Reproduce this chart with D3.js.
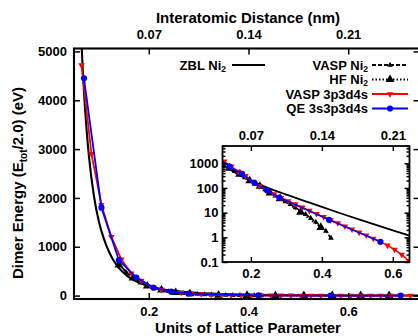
<!DOCTYPE html>
<html>
<head>
<meta charset="UTF-8">
<style>
body{margin:0;background:#fff;}
svg{display:block;font-family:"Liberation Sans",Arial,sans-serif;font-weight:bold;}
.axis text{font-size:13px;fill:#000;}
.axis line{stroke:#000;stroke-width:1.5px;}
.title{font-size:15px;}
.leg{font-size:13px;}
</style>
</head>
<body>
<svg width="418" height="336"></svg>
<script src="https://d3js.org/d3.v7.min.js"></script>
<script>
// x values are in units of the lattice parameter, energies in eV
var zblU = [0.05, 0.055, 0.06, 0.065, 0.07, 0.075, 0.08, 0.09, 0.1, 0.11, 0.12, 0.13, 0.14, 0.15, 0.16, 0.18, 0.2, 0.22, 0.25, 0.28, 0.3, 0.35, 0.4, 0.45, 0.5, 0.55, 0.6, 0.65, 0.7, 0.75];
var zblE = [11200, 8510, 6610, 5190, 4170, 3430, 2850, 2040, 1510, 1160, 902, 708, 569, 462, 380, 269, 195, 146, 97.7, 67.6, 53.7, 30.2, 17.0, 9.66, 5.56, 3.24, 1.91, 1.135, 0.684, 0.417];

var vaspNiU = [0.14, 0.1543, 0.1686, 0.1829, 0.1971, 0.2114, 0.2257, 0.24, 0.2543, 0.2686, 0.2829, 0.2971, 0.3114, 0.3257, 0.34, 0.3543, 0.3686, 0.3829, 0.3971, 0.4114, 0.4257];
var vaspNiE = [660, 479, 355, 263, 195, 148, 112, 85, 63, 48, 37, 28, 21.4, 15.8, 11.7, 8.5, 6.0, 4.2, 2.8, 1.78, 0.93];

var hfU = [0.14, 0.1685, 0.197, 0.2255, 0.254, 0.2825, 0.34, 0.397, 0.454, 0.511, 0.568, 0.625, 0.682];
var hfE = [630, 363, 195, 117, 63, 37, 10.5, 2.5, -0.6, -1.2, -1.3, -1.1, -0.9];

var vasp3pU = [0.065, 0.085, 0.105, 0.125, 0.145, 0.165, 0.185, 0.205, 0.225, 0.245, 0.265, 0.285, 0.305, 0.325, 0.345, 0.365, 0.385, 0.405, 0.425, 0.445, 0.465, 0.485, 0.505, 0.525, 0.545, 0.565, 0.585, 0.605, 0.625, 0.645, 0.665, 0.685, 0.705, 0.725];
var vasp3pE = [4720, 2900, 1860, 1200, 740, 457, 309, 182, 120, 83, 56, 40, 29.5, 21.9, 16.2, 12.0, 8.9, 6.8, 5.0, 3.8, 2.8, 2.1, 1.58, 1.2, 0.89, 0.66, 0.47, 0.32, 0.20, 0.11, 0.063, 0.035, 0.02, 0.011];

var qeU = [0.07, 0.105, 0.14, 0.175, 0.21, 0.245, 0.28, 0.42, 0.565, 0.705];
var qeE = [4450, 1800, 726, 370, 161, 81, 41, 5.1, 0.66, -0.3];

var yTicks = [0, 1000, 2000, 3000, 4000, 5000];
var xTicks = [0.2, 0.4, 0.6];
var nmTicks = [0.07, 0.14, 0.21];
var logTicks = [0.1, 1, 10, 100, 1000];
var nmPerUnit = 0.35;

function zip(u, e) { return u.map(function(v, i) { return {u: v, e: e[i]}; }); }

var series = [
  {id: "zbl", values: zip(zblU, zblE), color: "#000", dash: null, sym: null, curve: d3.curveMonotoneX},
  {id: "vaspNi", values: zip(vaspNiU, vaspNiE), color: "#000", dash: "4,2", sym: d3.symbolTriangle, size: 14, rot: 0, curve: d3.curveLinear},
  {id: "hf", values: zip(hfU, hfE), color: "#000", dash: "1.5,2", sym: d3.symbolTriangle, size: 34, rot: 0, curve: d3.curveLinear},
  {id: "vasp3p", values: zip(vasp3pU, vasp3pE), color: "#ff0000", dash: null, sym: d3.symbolTriangle, size: 18, rot: 180, curve: d3.curveLinear},
  {id: "qe", values: zip(qeU, qeE), color: "#0000ff", dash: null, sym: d3.symbolCircle, size: 30, rot: 0, curve: d3.curveLinear}
];

var svg = d3.select("svg");

function panel(g, box, x, y, logY, lw) {
  var id = "clip" + Math.round(box.left);
  svg.append("clipPath").attr("id", id).append("rect")
      .attr("x", box.left).attr("y", box.top)
      .attr("width", box.right - box.left).attr("height", box.bottom - box.top);

  g.append("rect")
      .attr("x", box.left).attr("y", box.top)
      .attr("width", box.right - box.left).attr("height", box.bottom - box.top)
      .attr("fill", "#fff");

  var plot = g.append("g").attr("clip-path", "url(#" + id + ")");

  series.forEach(function(s) {
    var pts = s.values.filter(function(d) { return !logY || d.e > 0; });
    var line = d3.line().curve(s.curve)
        .x(function(d) { return x(d.u); })
        .y(function(d) { return y(d.e); });
    plot.append("path")
        .attr("d", line(pts))
        .attr("fill", "none")
        .attr("stroke", s.color)
        .attr("stroke-width", s.id == "zbl" ? lw + 0.3 : lw)
        .attr("stroke-dasharray", s.dash);
    if (s.sym) {
      plot.selectAll(null).data(pts).enter().append("path")
          .attr("d", d3.symbol().type(s.sym).size(s.size))
          .attr("transform", function(d) { return "translate(" + x(d.u) + "," + y(d.e) + ") rotate(" + s.rot + ")"; })
          .attr("fill", s.color);
    }
  });

  g.append("rect")
      .attr("x", box.left).attr("y", box.top)
      .attr("width", box.right - box.left).attr("height", box.bottom - box.top)
      .attr("fill", "none").attr("stroke", "#000").attr("stroke-width", lw + 0.3);
}

// main plot
var mb = {left: 74, right: 419.5, top: 48.5, bottom: 299};
var x = d3.scaleLinear().domain([0.05, 0.743]).range([mb.left, mb.right]);
var x2 = d3.scaleLinear().domain([0.05 * nmPerUnit, 0.743 * nmPerUnit]).range([mb.left, mb.right]);
var y = d3.scaleLinear().domain([-70, 5060]).range([mb.bottom, mb.top]);

var main = svg.append("g");
panel(main, mb, x, y, false, 1.8);

main.append("g").attr("class", "axis")
    .attr("transform", "translate(0," + mb.bottom + ")")
    .call(d3.axisBottom(x).tickValues(xTicks).tickSizeInner(-6).tickSizeOuter(0).tickPadding(8).tickFormat(d3.format(".1f")));
main.append("g").attr("class", "axis")
    .attr("transform", "translate(0," + mb.top + ")")
    .call(d3.axisTop(x2).tickValues(nmTicks).tickSizeInner(-6).tickSizeOuter(0).tickPadding(10).tickFormat(d3.format(".2f")));
main.append("g").attr("class", "axis")
    .attr("transform", "translate(" + mb.left + ",0)")
    .call(d3.axisLeft(y).tickValues(yTicks).tickSizeInner(-6).tickSizeOuter(0).tickPadding(7).tickFormat(d3.format("d")));
main.append("g").attr("class", "axis")
    .attr("transform", "translate(" + mb.right + ",0)")
    .call(d3.axisRight(y).tickValues(yTicks).tickSizeInner(-6).tickSizeOuter(0).tickFormat(""));

// inset
var ib = {left: 222.5, right: 409.5, top: 146, bottom: 262};
var xi = d3.scaleLinear().domain([0.12, 0.647]).range([ib.left, ib.right]);
var xi2 = d3.scaleLinear().domain([0.12 * nmPerUnit, 0.647 * nmPerUnit]).range([ib.left, ib.right]);
var yi = d3.scaleLog().domain([0.1, 5000]).range([ib.bottom, ib.top]);

var inset = svg.append("g");
panel(inset, ib, xi, yi, true, 1.5);

var minor = [];
[0.1, 1, 10, 100, 1000].forEach(function(d) {
  for (var k = 2; k <= 9; k++) if (d * k <= 5000) minor.push(d * k);
});

inset.append("g").attr("class", "axis")
    .attr("transform", "translate(0," + ib.bottom + ")")
    .call(d3.axisBottom(xi).tickValues(xTicks).tickSizeInner(-5).tickSizeOuter(0).tickPadding(7).tickFormat(d3.format(".1f")));
inset.append("g").attr("class", "axis")
    .attr("transform", "translate(0," + ib.top + ")")
    .call(d3.axisTop(xi2).tickValues(nmTicks).tickSizeInner(-5).tickSizeOuter(0).tickPadding(6).tickFormat(d3.format(".2f")));
inset.append("g").attr("class", "axis")
    .attr("transform", "translate(" + ib.left + ",0)")
    .call(d3.axisLeft(yi).tickValues(logTicks).tickSizeInner(-5).tickSizeOuter(0).tickPadding(4).tickFormat(function(d) { return d < 1 ? "0.1" : d3.format("d")(d); }));
inset.append("g").attr("class", "axis")
    .attr("transform", "translate(" + ib.left + ",0)")
    .call(d3.axisLeft(yi).tickValues(minor).tickSizeInner(-3).tickSizeOuter(0).tickFormat(""));
inset.append("g").attr("class", "axis")
    .attr("transform", "translate(" + ib.right + ",0)")
    .call(d3.axisRight(yi).tickValues(logTicks).tickSizeInner(-5).tickSizeOuter(0).tickFormat(""));
inset.append("g").attr("class", "axis")
    .attr("transform", "translate(" + ib.right + ",0)")
    .call(d3.axisRight(yi).tickValues(minor).tickSizeInner(-3).tickSizeOuter(0).tickFormat(""));

svg.selectAll(".axis .domain").remove();

// titles
svg.append("text").attr("class", "title").attr("x", 248).attr("y", 23).attr("text-anchor", "middle")
    .text("Interatomic Distance (nm)");
svg.append("text").attr("class", "title").attr("x", 248).attr("y", 333).attr("text-anchor", "middle")
    .text("Units of Lattice Parameter");
var yl = svg.append("text").attr("class", "title").attr("text-anchor", "middle")
    .attr("transform", "translate(23,183) rotate(-90)");
yl.append("tspan").text("Dimer Energy (E");
yl.append("tspan").attr("font-size", "10px").attr("dy", 4).text("tot");
yl.append("tspan").attr("dy", -4).text("/2.0) (eV)");

// legend
var legend = [
  {label: "ZBL Ni", sub: "2", s: 0, tx: 226, lx: 232, lw: 33, y: 65},
  {label: "VASP Ni", sub: "2", s: 1, tx: 368, lx: 372, lw: 36, y: 65},
  {label: "HF Ni", sub: "2", s: 2, tx: 368, lx: 372, lw: 36, y: 79.5},
  {label: "VASP 3p3d4s", sub: null, s: 3, tx: 368, lx: 372, lw: 36, y: 94},
  {label: "QE 3s3p3d4s", sub: null, s: 4, tx: 368, lx: 372, lw: 36, y: 108.5}
];
legend.forEach(function(d) {
  var s = series[d.s];
  var t = svg.append("text").attr("class", "leg").attr("x", d.tx).attr("y", d.y + 4.5).attr("text-anchor", "end");
  t.append("tspan").text(d.label);
  if (d.sub) t.append("tspan").attr("font-size", "8.5px").attr("dy", 2).text(d.sub);
  svg.append("line").attr("x1", d.lx).attr("x2", d.lx + d.lw).attr("y1", d.y).attr("y2", d.y)
      .attr("stroke", s.color).attr("stroke-width", 1.8).attr("stroke-dasharray", s.dash);
  if (s.sym) svg.append("path").attr("d", d3.symbol().type(s.sym).size(s.size))
      .attr("transform", "translate(" + (d.lx + d.lw / 2) + "," + d.y + ") rotate(" + s.rot + ")")
      .attr("fill", s.color);
});
</script>
</body>
</html>
